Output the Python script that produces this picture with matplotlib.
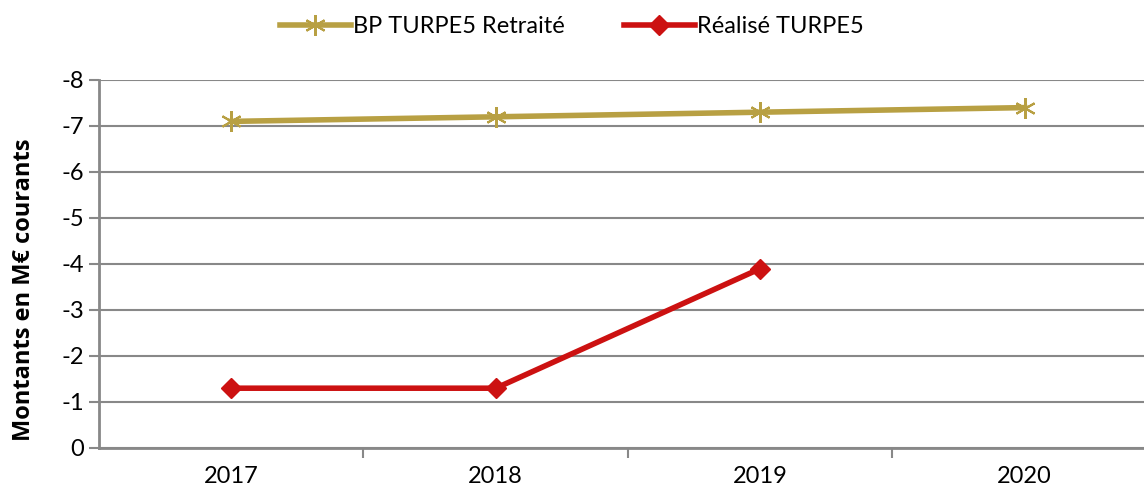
import matplotlib.pyplot as plt
from matplotlib.ticker import FixedLocator

years = ["2017", "2018", "2019", "2020"]
bp_turpe5 = [-7.1, -7.2, -7.3, -7.4]
realise_turpe5 = [-1.3, -1.3, -3.9]

plt.rcParams["font.family"] = ["Lato", "DejaVu Sans"]

fig = plt.figure(figsize=(11.44, 4.93), dpi=100)
ax = fig.add_axes([99 / 1144, 45 / 493, 1058 / 1144, 368 / 493])

x = list(range(len(years)))
ax.plot(x, bp_turpe5, color="#b8a043", lw=4, marker=(6, 2, 0), markersize=15,
        markeredgewidth=1.5, label="BP TURPE5 Retraité")
ax.plot(x[:len(realise_turpe5)], realise_turpe5, color="#cc1111", lw=4,
        marker="D", markersize=10, label="Réalisé TURPE5")

ax.set_xlim(-0.5, 3.5)
ax.set_ylim(0, -8)
ax.set_yticks(range(0, -9, -1))
ax.set_yticklabels([str(v) for v in range(0, -9, -1)])
ax.set_xticks(x)
ax.set_xticklabels(years)
ax.xaxis.set_minor_locator(FixedLocator([0.5, 1.5, 2.5]))
ax.tick_params(axis="x", which="major", length=0, labelsize=17, pad=13)
ax.tick_params(axis="x", which="minor", length=7, width=1.5, color="#888888")
ax.tick_params(axis="y", length=7, width=1.5, color="#888888", labelsize=17)

ax.grid(axis="y", color="#888888", lw=1.5)
ax.set_axisbelow(True)
for s in ["top", "right"]:
    ax.spines[s].set_visible(False)
for s in ["left", "bottom"]:
    ax.spines[s].set_color("#888888")
    ax.spines[s].set_linewidth(2)

ax.set_ylabel("Montants en M€ courants", fontsize=17, fontweight="bold",
              family=["Open Sans", "DejaVu Sans"])
ax.yaxis.set_label_coords(-0.060, 0.43)

fig.legend(loc="upper center", bbox_to_anchor=(0.5, 1.01), ncol=2, frameon=False,
           fontsize=17, handlelength=3, columnspacing=2.5, handletextpad=0.1)

fig.savefig("out.png", dpi=100)
